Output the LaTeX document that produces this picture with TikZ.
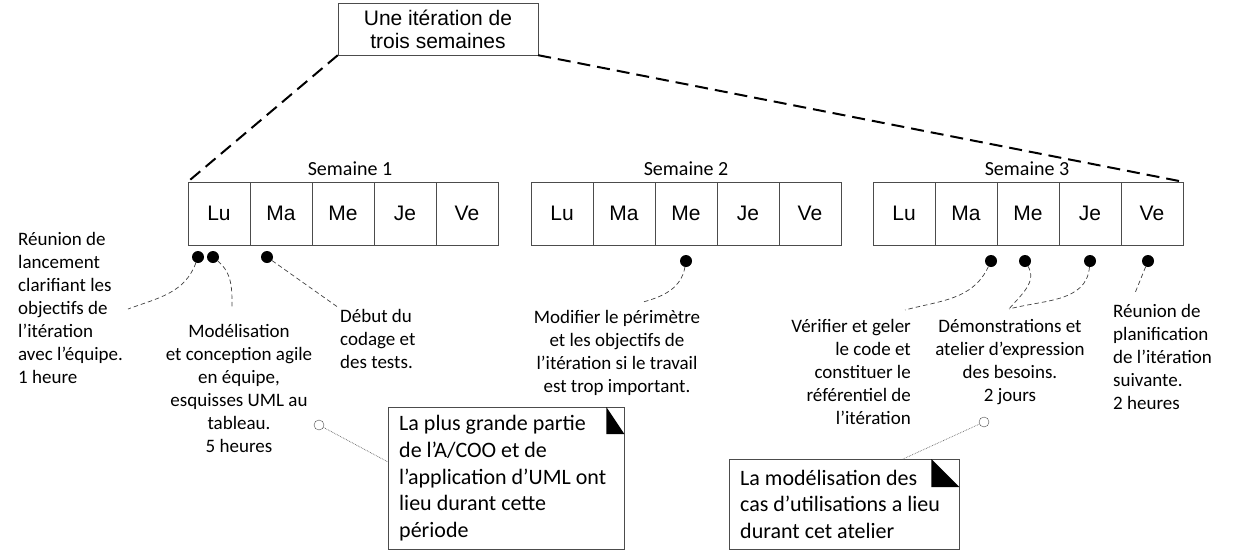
\documentclass[tikz,border=0pt]{standalone}
\usepackage{fontspec}
\setmainfont{Carlito}
\newfontfamily\arialfont{Liberation Sans}

\begin{document}
\begin{tikzpicture}[x = 1pt, y = -1pt,
        day/.style = {draw = black!70, minimum width = 62pt, minimum height = 63pt, inner sep = 0pt, font = \arialfont\fontsize{21}{24}\selectfont},
        dot/.style = {circle, fill = black, minimum size = 12pt, inner sep = 0pt},
        hole/.style = {circle, draw = black!70, fill = white, minimum size = 10pt, inner sep = 0pt},
        txt/.style = {inner sep = 0pt, font = \fontsize{19}{23}\selectfont},
        note/.style = {draw = black!70, anchor = north west, inner xsep = 11pt, inner ysep = 0pt, align = flush left, font = \fontsize{22}{26.7}\selectfont},
        lead/.style = {draw = black!75, dash pattern = on 4.5pt off 3pt, line width = 0.7pt},
        hint/.style = {draw = black!60, densely dotted, line width = 0.7pt},
        span/.style = {line width = 2pt, dash pattern = on 13pt off 7pt}]

    \useasboundingbox (0, 0) rectangle (1235, 555);

    % the iteration and its three weeks
    \node[draw = black!70, minimum width = 200pt, minimum height = 52pt, align = center, font = \arialfont\fontsize{21}{23}\selectfont] (iter) at (438, 29) {Une itération de\\trois semaines};
    \foreach \w/\x in {1/188, 2/531, 3/873}
        \foreach \d [count = \i] in {Lu, Ma, Me, Je, Ve}
            \node[day] (w\w-\i) at (\x + 62*\i - 31, 213.5) {\d};
    \node[anchor = base, inner sep = 0pt, font = \fontsize{20}{24}\selectfont] (s1) at (350, 175) {Semaine 1};
    \node[anchor = base, inner sep = 0pt, font = \fontsize{20}{24}\selectfont] (s2) at (686, 175) {Semaine 2};
    \node[anchor = base, inner sep = 0pt, font = \fontsize{20}{24}\selectfont] (s3) at (1027, 175) {Semaine 3};
    \draw[span] (iter.south west) -- (w1-1.north west);
    \draw[span] (iter.south east) -- (w3-5.north east);

    % events (texts are placed by the baseline of their last line)
    \foreach \n/\x/\y in {1/198/257, 2/213/257, 3/267/257, 4/686/261, 5/991/261, 6/1025/261, 7/1090/261, 8/1148/261}
        \node[dot] (d\n) at (\x, \y) {};

    \node[txt, align = left, anchor = base west] (t1) at (18, 383) {Réunion de\\lancement\\clarifiant les\\objectifs de\\l’itération\\avec l’équipe.\\1 heure};
    \node[txt, align = center, anchor = base] (t2) at (239, 452) {Modélisation\\et conception agile\\en équipe,\\esquisses UML au\\tableau.\\5 heures};
    \node[txt, align = left, anchor = base west] (t3) at (340, 368) {Début du\\codage et\\des tests.};
    \node[txt, align = center, anchor = base] (t4) at (617, 392) {Modifier le périmètre\\et les objectifs de\\l’itération si le travail\\est trop important.};
    \node[txt, align = right, anchor = base east] (t5) at (911, 424) {Vérifier et geler\\le code et\\constituer le\\référentiel de\\l’itération};
    \node[txt, align = center, anchor = base] (t6) at (1010, 401) {Démonstrations et\\atelier d’expression\\des besoins.\\2 jours};
    \node[txt, align = left, anchor = base west] (t7) at (1113, 409) {Réunion de\\planification\\de l’itération\\suivante.\\2 heures};

    \coordinate (e1) at (128, 309);
    \coordinate (e2) at (232, 308);
    \coordinate (e3) at (339, 308);
    \coordinate (e4) at (643, 302);
    \coordinate (e5) at (905, 310);
    \coordinate (e6) at (1009, 309);
    \coordinate (e8) at (1135, 293);
    \draw[lead] (d1) to[out = -110, in = 20] (e1);
    \draw[lead] (d2) to[out = -40, in = 90] (e2);
    \draw[lead] (d3) -- (e3);
    \draw[lead] (d4) to[out = -100, in = 15] (e4);
    \draw[lead] (d5) to[out = -115, in = 15] (e5);
    \draw[lead] (d6) to[out = -60, in = 50] (e6);
    \draw[lead] (d7) to[out = -95, in = 15] (e6);
    \draw[lead] (d8) -- (e8);

    % notes
    \node[note, text width = 214pt, minimum height = 142pt] (n1) at (388, 407) {La plus grande partie\\de l’A/COO et de\\l’application d’UML ont\\lieu durant cette\\période};
    \node[note, text width = 208pt, minimum height = 90pt] (n2) at (729, 459) {La modélisation des\\cas d’utilisations a lieu\\durant cet atelier};
    \fill (n1.north east) ++(-18, 0) -- ++(0, 27) -- ++(18, 0) -- cycle;
    \fill (n2.north east) ++(-28, 0) -- ++(0, 28) -- ++(28, 0) -- cycle;
    \node[hole] (h1) at (319, 425) {};
    \node[hole] (h2) at (984, 422) {};
    \draw[hint] (h1) -- ([yshift = -55pt]n1.north west);
    \draw[hint] (h2) -- ([xshift = 174pt]n2.north west);
\end{tikzpicture}
\end{document}
